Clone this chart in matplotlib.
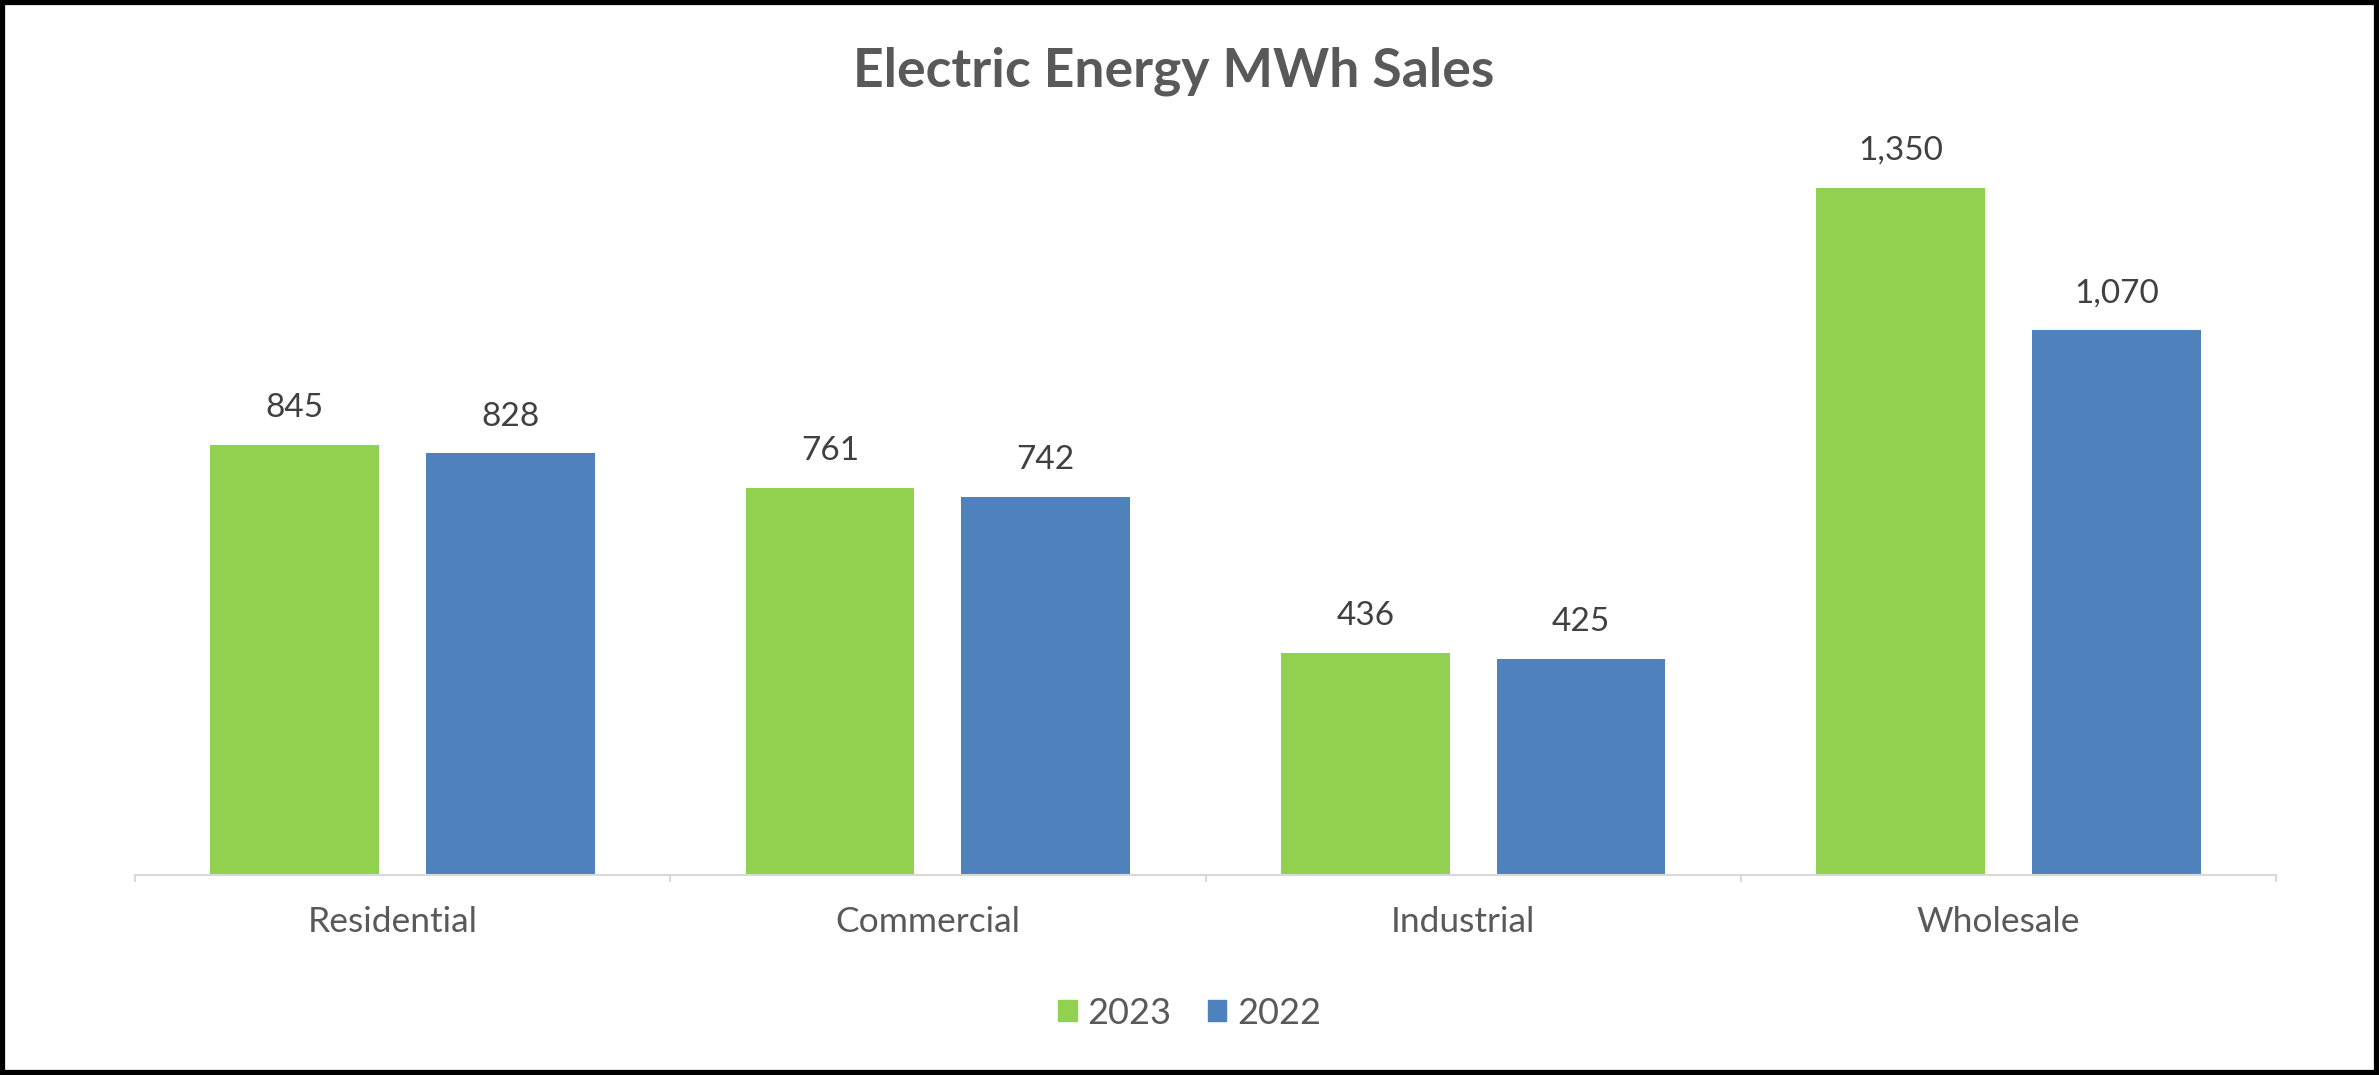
import matplotlib.pyplot as plt
import matplotlib.transforms as mtransforms
import numpy as np
from matplotlib.patches import Patch, Rectangle

categories = ["Residential", "Commercial", "Industrial", "Wholesale"]
sales_2023 = [845, 761, 436, 1350]
sales_2022 = [828, 742, 425, 1070]
series_labels = ["2023", "2022"]

GREEN = "#92D050"
BLUE = "#4F81BD"

plt.rcParams['font.family'] = ['Lato', 'DejaVu Sans']

fig = plt.figure(figsize=(23.79, 10.75), dpi=100)
ax = fig.add_axes([135 / 2379, 1 - 875 / 1075, (2276 - 135) / 2379, 814.6 / 1075])

x = np.arange(len(categories))
w = 0.315
off = w / 2 + 0.044
b1 = ax.bar(x - off, sales_2023, w, color=GREEN, label=series_labels[0])
b2 = ax.bar(x + off, sales_2022, w, color=BLUE, label=series_labels[1])

for bars in (b1, b2):
    for r in bars:
        ax.annotate(f"{int(r.get_height()):,}", (r.get_x() + r.get_width() / 2, r.get_height()),
                    xytext=(0, 20), textcoords="offset points", ha="center", va="baseline",
                    fontsize=24, color="#404040")

ax.set_xlim(-0.5, len(categories) - 0.5)
ax.set_ylim(0, 1600)
for s in ["top", "right", "left"]:
    ax.spines[s].set_visible(False)
ax.spines["bottom"].set_color("#D9D9D9")
ax.spines["bottom"].set_linewidth(1.5)
ax.set_yticks([])

# tick marks on category boundaries, labels at centres
ax.set_xticks(np.arange(len(categories) + 1) - 0.5)
ax.set_xticklabels([])
ax.tick_params(axis="x", which="major", length=5, width=1.5, color="#D9D9D9")
ax.set_xticks(x, minor=True)
ax.set_xticklabels(categories, minor=True, fontsize=25.5, color="#595959")
ax.tick_params(axis="x", which="minor", length=0, pad=22)
# labels sit a little left of the category centre in the original
shift = mtransforms.ScaledTranslation(-10 / 100, 0, fig.dpi_scale_trans)
for lbl in ax.get_xticklabels(minor=True):
    lbl.set_transform(lbl.get_transform() + shift)

fig.text(1174 / 2379, 1 - 71 / 1075, "Electric Energy MWh Sales", ha="center", va="center",
         fontsize=38.5, fontweight="bold", color="#595959")

handles = [Patch(color=GREEN), Patch(color=BLUE)]
fig.legend(handles, series_labels, loc="center", bbox_to_anchor=(0.5, 1 - 1013 / 1075), ncol=2,
           frameon=False, fontsize=26, handlelength=0.52, handleheight=0.52, handletextpad=0.3,
           columnspacing=1.0, labelcolor="#595959")

fig.patches.append(Rectangle((0.001, 0.002), 0.998, 0.996, transform=fig.transFigure,
                             fill=False, edgecolor="black", linewidth=4.5))

plt.savefig("out.png", dpi=100)
plt.close()
